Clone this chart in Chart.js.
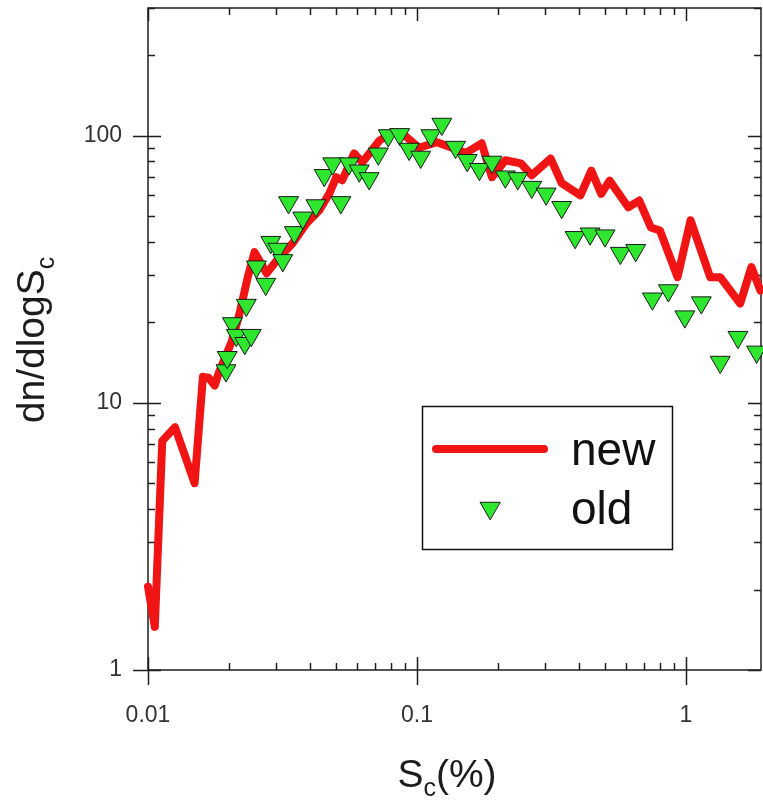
<!DOCTYPE html>
<html>
<head>
<meta charset="utf-8">
<script src="https://cdn.jsdelivr.net/npm/chart.js@4.4.1/dist/chart.umd.min.js"></script>
<style>
  html, body { margin: 0; padding: 0; background: #fff; overflow: hidden; }
  #wrap { width: 763px; height: 804px; }
</style>
</head>
<body>
<div id="wrap"><canvas id="scChart" width="763" height="804"></canvas></div>
<script>
// Sc (%) vs dn/dlogSc, new retrieval (line) and old one (triangles)
const newSc = [0.0100, 0.0106, 0.0113, 0.0126, 0.0149, 0.0160, 0.0168, 0.0177, 0.0183, 0.0205,
  0.0219, 0.0235, 0.0249, 0.0276, 0.0308, 0.0345, 0.0388, 0.0433, 0.0472, 0.0501,
  0.0527, 0.0584, 0.0626, 0.0724, 0.0810, 0.0900, 0.1017, 0.1186, 0.135, 0.152,
  0.174, 0.190, 0.213, 0.243, 0.267, 0.314, 0.345, 0.405, 0.4445, 0.484,
  0.52, 0.61, 0.67, 0.74, 0.80, 0.93, 1.04, 1.23, 1.34, 1.59, 1.75, 1.89];
const newCount = [2.05, 1.45, 7.2, 8.1, 5.0, 12.5, 12.4, 11.6, 12.9, 17,
  21.6, 29.6, 36.6, 30.5, 35, 39.5, 46.9, 52.4, 60.6, 69.8,
  68, 85.7, 79.3, 95.6, 103, 100, 90, 94.4, 90, 86,
  93.5, 69.8, 80.8, 78.7, 71, 82, 66.3, 59.7, 73.9, 60.5,
  67.8, 53.9, 57.1, 45.3, 44.1, 29.5, 48.2, 29.5, 29.5, 23.5, 32.2, 26.3];

const oldSc = [0.0195, 0.0197, 0.0206, 0.0213, 0.0229, 0.0232, 0.0242, 0.0253, 0.0274, 0.0286,
  0.0304, 0.0317, 0.0333, 0.0350, 0.0376, 0.0421, 0.0452, 0.0486, 0.0521, 0.0559,
  0.0610, 0.0664, 0.0718, 0.0782, 0.0862, 0.0935, 0.1032, 0.1126, 0.1237, 0.1391,
  0.1537, 0.1706, 0.190, 0.213, 0.237, 0.267, 0.302, 0.345, 0.387, 0.44,
  0.50, 0.57, 0.65, 0.75, 0.86, 0.99, 1.14, 1.34, 1.56, 1.83];
const oldCount = [13.2, 14.8, 19.8, 17.9, 16.7, 23.2, 17.9, 32.3, 27.8, 39.9,
  37.6, 34.1, 56.2, 43.4, 49.2, 54.7, 71, 78.5, 56.2, 78.5,
  73.8, 69.1, 85.4, 100, 101, 89, 83.1, 100, 110.4, 90.5,
  80.8, 74.8, 79.6, 70.1, 69.1, 64.1, 60.5, 53.9, 41.6, 42.9,
  42.2, 36.3, 37.2, 24.5, 26.3, 21.0, 23.7, 14.2, 17.6, 15.5];

const xTickValues = [0.01, 0.1, 1];
const yTickValues = [1, 10, 100];
const xLimits = [0.01, 1.9];
const yLimits = [1, 300];

const FONT = "'Liberation Sans', Arial, sans-serif";
const RED = '#f01414';
const GREEN = '#2fe62f';

// 1..9 x 10^n inside [min, max]
function logSteps(min, max) {
  const out = [];
  for (let e = Math.floor(Math.log10(min)); e <= Math.ceil(Math.log10(max)); e++) {
    for (let m = 1; m <= 9; m++) {
      const v = m * Math.pow(10, e);
      if (v >= min * 0.999 && v <= max * 1.001) out.push({ v: v, major: m === 1 });
    }
  }
  return out;
}

// box round the plot + inward minor ticks, major ones crossing the axes
const frameTicks = {
  id: 'frameTicks',
  beforeDatasetsDraw(chart) {
    const { ctx, chartArea: a, scales } = chart;
    ctx.save();
    ctx.strokeStyle = '#1e1e1e';
    ctx.lineWidth = 1.5;
    ctx.strokeRect(a.left, a.top, a.right - a.left, a.bottom - a.top);
    ctx.beginPath();
    logSteps(xLimits[0], xLimits[1]).forEach(t => {
      const px = Math.round(scales.x.getPixelForValue(t.v)) + 0.5;
      const inLen = t.major ? 13 : 7;
      ctx.moveTo(px, a.bottom + (t.major ? 15 : 0));
      ctx.lineTo(px, a.bottom - inLen);
      ctx.moveTo(px, a.top);
      ctx.lineTo(px, a.top + inLen);
    });
    logSteps(yLimits[0], yLimits[1]).forEach(t => {
      const py = Math.round(scales.y.getPixelForValue(t.v)) + 0.5;
      const inLen = t.major ? 13 : 7;
      ctx.moveTo(a.left - (t.major ? 15 : 0), py);
      ctx.lineTo(a.left + inLen, py);
      ctx.moveTo(a.right, py);
      ctx.lineTo(a.right - inLen, py);
    });
    ctx.stroke();
    ctx.restore();
  }
};

// axis titles with subscripts and the boxed key
const titlesAndKey = {
  id: 'titlesAndKey',
  afterDraw(chart) {
    const { ctx } = chart;
    ctx.save();
    ctx.fillStyle = '#1c1c1c';
    ctx.textBaseline = 'alphabetic';

    // x title: Sc(%)
    const big = '39px ' + FONT, sub = '25px ' + FONT;
    ctx.font = big;
    const wS = ctx.measureText('S').width, wRest = ctx.measureText('(%)').width;
    ctx.font = sub;
    const wc = ctx.measureText('c').width;
    const x0 = 447 - (wS + wc + wRest) / 2;
    const base = 787;
    ctx.font = big; ctx.fillText('S', x0, base);
    ctx.font = sub; ctx.fillText('c', x0 + wS, base + 9);
    ctx.font = big; ctx.fillText('(%)', x0 + wS + wc, base);

    // y title: dn/dlogSc, rotated
    ctx.save();
    ctx.translate(44, 340);
    ctx.rotate(-Math.PI / 2);
    ctx.font = big;
    const wMain = ctx.measureText('dn/dlogS').width;
    const start = -(wMain + wc) / 2;
    ctx.fillText('dn/dlogS', start, 0);
    ctx.font = sub;
    ctx.fillText('c', start + wMain, 10);
    ctx.restore();

    // key
    ctx.strokeStyle = '#111';
    ctx.lineWidth = 1.5;
    ctx.strokeRect(422.5, 406.5, 250, 143);
    ctx.strokeStyle = RED;
    ctx.lineWidth = 8;
    ctx.lineCap = 'round';
    ctx.beginPath();
    ctx.moveTo(436, 449);
    ctx.lineTo(544, 449);
    ctx.stroke();
    const oldSet = chart.data.datasets[0];
    ctx.fillStyle = oldSet.backgroundColor;
    ctx.strokeStyle = oldSet.borderColor;
    ctx.lineWidth = oldSet.borderWidth;
    Chart.helpers.drawPoint(ctx, {
      pointStyle: oldSet.pointStyle, rotation: oldSet.rotation,
      radius: oldSet.pointRadius, borderWidth: oldSet.borderWidth
    }, 490, 508);
    ctx.fillStyle = '#111';
    ctx.font = '46px ' + FONT;
    ctx.fillText('new', 571, 465);
    ctx.fillText('old', 571, 524);
    ctx.restore();
  }
};

const ctx = document.getElementById('scChart').getContext('2d');
new Chart(ctx, {
  type: 'scatter',
  data: {
    datasets: [
      {
        label: 'old',
        data: oldSc.map((x, i) => ({ x: x, y: oldCount[i] })),
        pointStyle: 'triangle',
        rotation: 180,
        pointRadius: 11.5,
        pointHoverRadius: 11.5,
        backgroundColor: GREEN,
        borderColor: '#1a1a1a',
        borderWidth: 1,
        clip: false,
        order: 0
      },
      {
        label: 'new',
        data: newSc.map((x, i) => ({ x: x, y: newCount[i] })),
        showLine: true,
        pointRadius: 0,
        borderColor: RED,
        borderWidth: 8,
        borderJoinStyle: 'round',
        borderCapStyle: 'round',
        tension: 0,
        clip: false,
        order: 1
      }
    ]
  },
  options: {
    responsive: false,
    animation: false,
    events: [],
    layout: { autoPadding: false, padding: { top: 8, right: 2, left: 0, bottom: 0 } },
    plugins: { legend: { display: false }, tooltip: { enabled: false } },
    scales: {
      x: {
        type: 'logarithmic',
        min: xLimits[0],
        max: xLimits[1],
        afterFit(s) { s.height = 134; s.paddingLeft = 0; s.paddingRight = 0; },
        afterBuildTicks(s) { s.ticks = xTickValues.map(v => ({ value: v })); },
        grid: { display: false, drawTicks: false },
        border: { display: false },
        ticks: {
          callback: v => String(v),
          autoSkip: false, maxRotation: 0,
          padding: 32,
          color: '#333',
          font: { family: FONT, size: 23 }
        }
      },
      y: {
        type: 'logarithmic',
        min: yLimits[0],
        max: yLimits[1],
        afterFit(s) { s.width = 148; s.paddingTop = 0; s.paddingBottom = 0; },
        afterBuildTicks(s) { s.ticks = yTickValues.map(v => ({ value: v })); },
        grid: { display: false, drawTicks: false },
        border: { display: false },
        ticks: {
          callback: v => String(v),
          autoSkip: false,
          padding: 26,
          color: '#333',
          font: { family: FONT, size: 23 }
        }
      }
    }
  },
  plugins: [frameTicks, titlesAndKey]
});
</script>
</body>
</html>
